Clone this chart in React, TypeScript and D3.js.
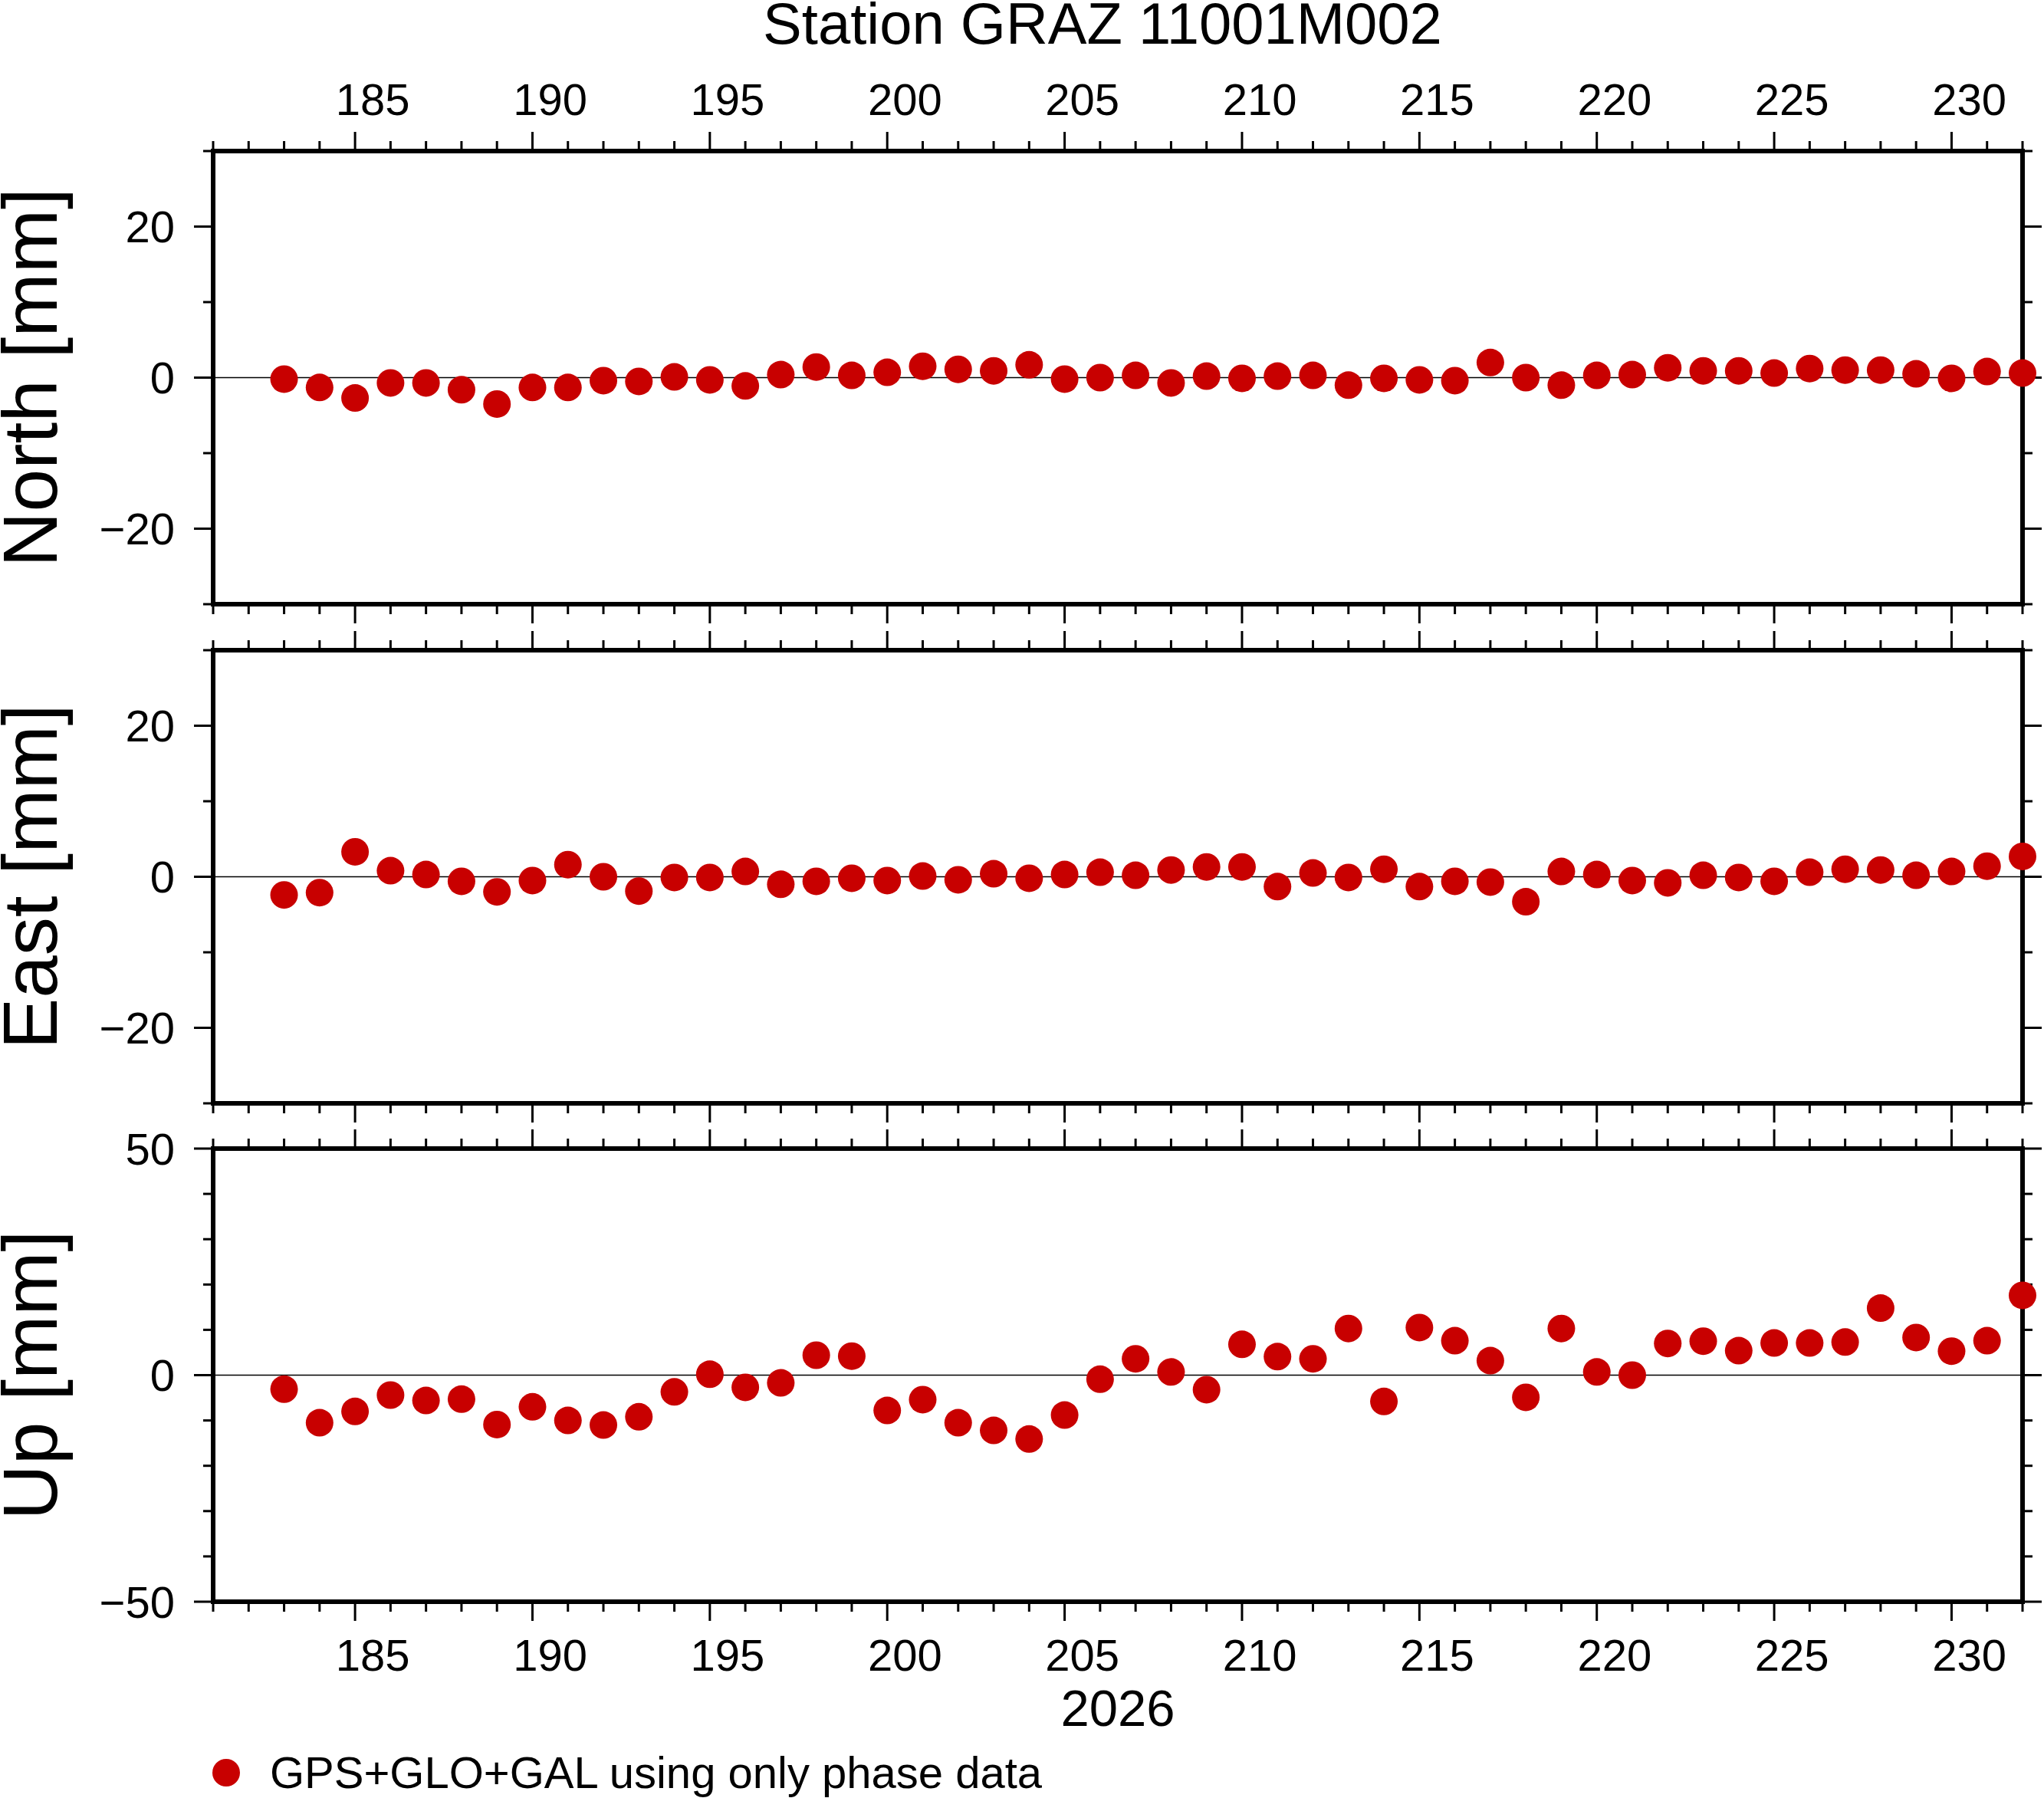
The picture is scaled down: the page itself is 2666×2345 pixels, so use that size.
import { scaleLinear, range } from "d3";

const title = "Station GRAZ 11001M002";
const yearLabel = "2026";
const legendLabel = "GPS+GLO+GAL using only phase data";

// day of year of the first solution, one point per day
const firstDay = 183;
const dayDomain = [181, 232];
const dayLabels = [185, 190, 195, 200, 205, 210, 215, 220, 225, 230];

const north = [
  -0.2, -1.3, -2.7, -0.7, -0.7, -1.6, -3.5, -1.3, -1.3, -0.4,
  -0.5, 0.1, -0.3, -1.1, 0.4, 1.4, 0.3, 0.7, 1.5, 1.1,
  0.9, 1.7, -0.2, 0.0, 0.3, -0.7, 0.2, -0.1, 0.2, 0.3,
  -1.0, -0.1, -0.3, -0.4, 2.0, 0.0, -1.0, 0.3, 0.4, 1.3,
  0.9, 0.9, 0.6, 1.2, 1.0, 1.0, 0.5, -0.1, 0.8, 0.6,
];
const east = [
  -2.4, -2.1, 3.3, 0.8, 0.3, -0.6, -2.0, -0.5, 1.6, 0.0,
  -1.9, -0.1, -0.1, 0.7, -1.0, -0.6, -0.2, -0.5, 0.1, -0.4,
  0.4, -0.2, 0.3, 0.6, 0.2, 0.9, 1.3, 1.3, -1.3, 0.5,
  -0.1, 1.0, -1.3, -0.6, -0.7, -3.3, 0.7, 0.3, -0.5, -0.8,
  0.2, -0.1, -0.6, 0.6, 1.0, 0.9, 0.2, 0.7, 1.4, 2.7,
];
const up = [
  -3.1, -10.5, -8.0, -4.4, -5.6, -5.3, -10.9, -7.0, -10.0, -11.0,
  -9.2, -3.7, 0.2, -2.7, -1.7, 4.4, 4.2, -7.8, -5.4, -10.5,
  -12.2, -14.1, -8.8, -0.9, 3.6, 0.7, -3.2, 6.8, 4.1, 3.6,
  10.3, -5.8, 10.5, 7.6, 3.2, -4.9, 10.3, 0.7, 0.0, 7.0,
  7.5, 5.4, 7.1, 7.1, 7.3, 14.8, 8.3, 5.3, 7.6, 17.6,
];

const panels = [
  { label: "North [mm]", values: north, limit: 30, major: [-20, 0, 20], minor: [-30, -10, 10, 30] },
  { label: "East [mm]", values: east, limit: 30, major: [-20, 0, 20], minor: [-30, -10, 10, 30] },
  { label: "Up [mm]", values: up, limit: 50, major: [-50, 0, 50], minor: [-40, -30, -20, -10, 10, 20, 30, 40] },
];

const width = 2666;
const height = 2345;
const left = 278;
const right = 2638;
const panelTops = [197, 848, 1498];
const panelHeight = 591;
const red = "#c80000";
const font = "'Liberation Sans', Arial, Helvetica, sans-serif";

const fmt = (v: number) => (v < 0 ? "\u2212" + Math.abs(v) : String(v));

const x = scaleLinear().domain(dayDomain).range([left, right]);
const allDays = range(dayDomain[0], dayDomain[1] + 1);

const App = () => {
  return (
    <svg
      width={width}
      height={height}
      style={{ position: "absolute", left: 0, top: 0, background: "#fff" }}
      fontFamily={font}
    >
      <rect width={width} height={height} fill="#fff" />
      <text x={1438} y={57} fontSize={76} textAnchor="middle">
        {title}
      </text>

      {panels.map((p, pi) => {
        const top = panelTops[pi];
        const bottom = top + panelHeight;
        const y = scaleLinear().domain([-p.limit, p.limit]).range([bottom, top]);
        return (
          <g key={p.label}>
            {/* x ticks, top and bottom of every panel */}
            {allDays.map((d) => {
              const len = d % 5 === 0 ? 25 : 13;
              return (
                <g key={d} stroke="#000" strokeWidth={3}>
                  <line x1={x(d)} x2={x(d)} y1={top} y2={top - len} />
                  <line x1={x(d)} x2={x(d)} y1={bottom} y2={bottom + len} />
                </g>
              );
            })}
            {/* y ticks, both sides */}
            {p.major.concat(p.minor).map((v) => {
              const len = p.major.includes(v) ? 25 : 13;
              return (
                <g key={v} stroke="#000" strokeWidth={3}>
                  <line x1={left} x2={left - len} y1={y(v)} y2={y(v)} />
                  <line x1={right} x2={right + len} y1={y(v)} y2={y(v)} />
                </g>
              );
            })}
            {p.major.map((v) => (
              <text
                key={"l" + v}
                x={228}
                y={y(v)}
                fontSize={58}
                textAnchor="end"
                dominantBaseline="central"
              >
                {fmt(v)}
              </text>
            ))}
            <line x1={left} x2={right} y1={y(0)} y2={y(0)} stroke="#000" strokeWidth={1.5} />
            <rect
              x={left}
              y={top}
              width={right - left}
              height={panelHeight}
              fill="none"
              stroke="#000"
              strokeWidth={6}
            />
            <text
              transform={`translate(74,${(top + bottom) / 2}) rotate(-90)`}
              fontSize={100}
              textAnchor="middle"
            >
              {p.label}
            </text>
            {p.values.map((v, i) => (
              <circle key={i} cx={x(firstDay + i)} cy={y(v)} r={18} fill={red} />
            ))}
          </g>
        );
      })}

      {dayLabels.map((d) => (
        <g key={d} fontSize={58} textAnchor="middle">
          <text x={x(d + 0.5)} y={150}>
            {d}
          </text>
          <text x={x(d + 0.5)} y={2179}>
            {d}
          </text>
        </g>
      ))}
      <text x={(left + right) / 2} y={2251} fontSize={67} textAnchor="middle">
        {yearLabel}
      </text>

      <circle cx={295} cy={2312} r={18} fill={red} />
      <text x={352} y={2332} fontSize={58}>
        {legendLabel}
      </text>
    </svg>
  );
};

export default App;
